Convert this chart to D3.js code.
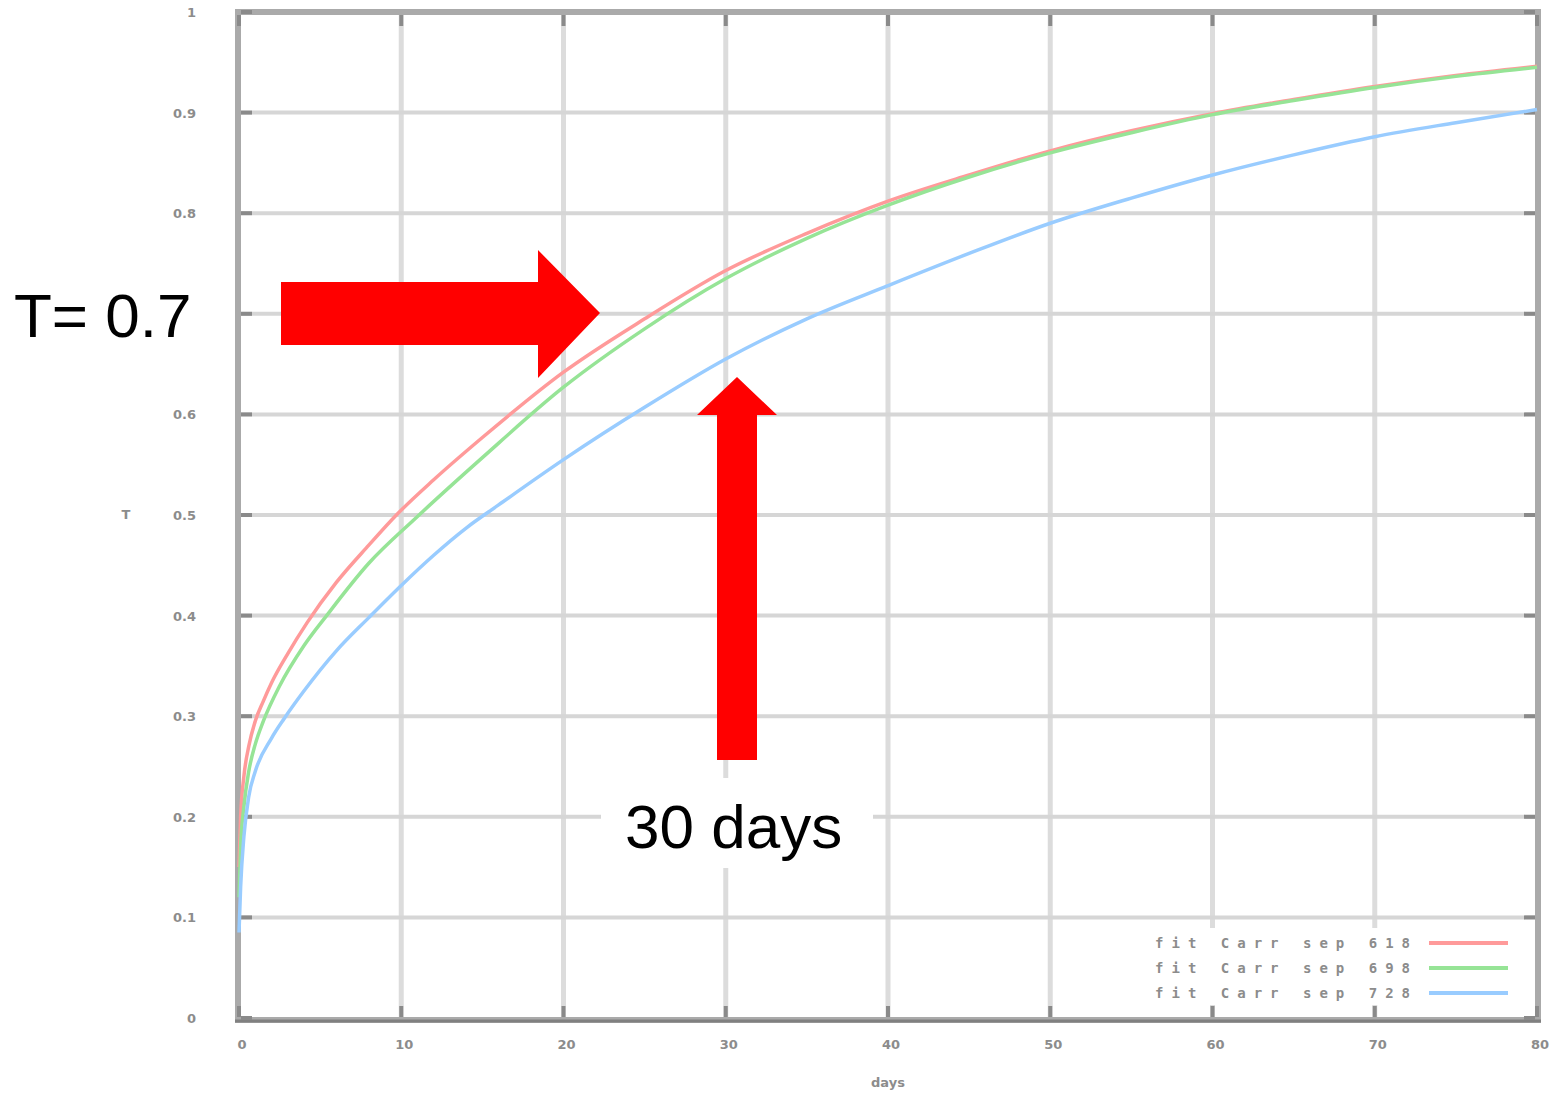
<!doctype html>
<html>
<head>
<meta charset='utf-8'>
<style>
  body { margin: 0; background: #fff; }
  svg { display: block; }
</style>
</head>
<body>
<div id='chart'></div>
<script src='https://cdn.jsdelivr.net/npm/d3@7/dist/d3.min.js'></script>
<script>

// values (days, T)
const xTicks = [0, 10, 20, 30, 40, 50, 60, 70, 80];
const yTicks = [0, 0.1, 0.2, 0.3, 0.4, 0.5, 0.6, 0.7, 0.8, 0.9, 1];
const yTickLabels = ['0', '0.1', '0.2', '0.3', '0.4', '0.5', '0.6', '', '0.8', '0.9', '1'];

const seriesNames = ['fit Carr sep 618', 'fit Carr sep 698', 'fit Carr sep 728'];
const seriesColors = ['#ff9a9a', '#96e496', '#99ccff'];

const redDays = [0, 0.1, 0.3, 0.6, 1, 1.5, 2, 3, 4.2, 6, 8, 9.7, 12, 15, 20, 25, 30, 35, 40, 45, 50, 55, 60, 65, 70, 75, 80];
const redT    = [0.15, 0.20, 0.24, 0.27, 0.295, 0.315, 0.333, 0.362, 0.393, 0.433, 0.47, 0.50, 0.535, 0.577, 0.642, 0.695, 0.743, 0.78, 0.812, 0.838, 0.862, 0.882, 0.899, 0.913, 0.926, 0.937, 0.946];

const greenDays = [0, 0.1, 0.3, 0.6, 1, 1.5, 2.5, 4, 5.4, 8, 10.9, 15, 20, 25, 30, 35, 40, 45, 50, 55, 60, 65, 70, 75, 80];
const greenT    = [0.12, 0.17, 0.21, 0.245, 0.272, 0.295, 0.33, 0.37, 0.40, 0.452, 0.497, 0.557, 0.627, 0.685, 0.735, 0.775, 0.808, 0.836, 0.86, 0.88, 0.898, 0.912, 0.925, 0.936, 0.945];

const blueDays = [0, 0.1, 0.3, 0.6, 1, 2, 2.8, 4, 6, 8, 10, 12, 14, 16, 20, 25, 30, 35, 40, 45, 50, 55, 60, 65, 70, 75, 80];
const blueT    = [0.085, 0.13, 0.18, 0.22, 0.245, 0.278, 0.298, 0.325, 0.365, 0.398, 0.43, 0.46, 0.487, 0.51, 0.555, 0.607, 0.655, 0.695, 0.728, 0.76, 0.79, 0.815, 0.838, 0.858, 0.876, 0.89, 0.903];

const W = 1564, H = 1103;
const frame = {l: 238, t: 12, r: 1538, b: 1020};

const svg = d3.select('#chart').append('svg')
  .attr('width', W)
  .attr('height', H);

const x = d3.scaleLinear().domain([0, 80]).range([239, 1537]);
const y = d3.scaleLinear().domain([0, 1]).range([1018, 12]);

// grid
svg.append('g')
  .selectAll('line.vg')
  .data(xTicks.slice(1, -1))
  .join('line')
  .attr('x1', d => x(d)).attr('x2', d => x(d))
  .attr('y1', frame.t).attr('y2', frame.b)
  .attr('stroke', '#dcdcdc').attr('stroke-width', 5);

svg.append('g')
  .selectAll('line.hg')
  .data(yTicks.slice(1, -1))
  .join('line')
  .attr('x1', frame.l).attr('x2', frame.r)
  .attr('y1', d => y(d)).attr('y2', d => y(d))
  .attr('stroke', '#d6d6d6').attr('stroke-width', 4);

// frame
svg.append('rect')
  .attr('x', frame.l).attr('y', frame.t)
  .attr('width', frame.r - frame.l).attr('height', frame.b - frame.t)
  .attr('fill', 'none').attr('stroke', '#aaaaaa').attr('stroke-width', 6);
svg.append('line')
  .attr('x1', frame.l - 3).attr('x2', frame.r + 3)
  .attr('y1', frame.b + 1).attr('y2', frame.b + 1)
  .attr('stroke', '#808080').attr('stroke-width', 3);

// tick marks, mirrored on all sides
const tickG = svg.append('g').attr('stroke', '#8a8a8a').attr('stroke-width', 4);
yTicks.forEach(t => {
  tickG.append('line').attr('x1', frame.l + 3).attr('x2', frame.l + 14).attr('y1', y(t)).attr('y2', y(t));
  tickG.append('line').attr('x1', frame.r - 3).attr('x2', frame.r - 14).attr('y1', y(t)).attr('y2', y(t));
});
xTicks.forEach(t => {
  tickG.append('line').attr('x1', x(t)).attr('x2', x(t)).attr('y1', frame.b - 3).attr('y2', frame.b - 14);
  tickG.append('line').attr('x1', x(t)).attr('x2', x(t)).attr('y1', frame.t + 3).attr('y2', frame.t + 14);
});

// tick labels
svg.append('g')
  .selectAll('text')
  .data(yTicks)
  .join('text')
  .attr('x', 196)
  .attr('y', d => y(d) + 5)
  .attr('text-anchor', 'end')
  .attr('font-family', 'DejaVu Sans, sans-serif')
  .attr('font-size', 13)
  .attr('font-weight', 'bold')
  .attr('fill', '#8c8c8c')
  .text((d, i) => yTickLabels[i]);

svg.append('g')
  .selectAll('text')
  .data(xTicks)
  .join('text')
  .attr('x', d => x(d) + 3)
  .attr('y', 1049)
  .attr('text-anchor', 'middle')
  .attr('font-family', 'DejaVu Sans, sans-serif')
  .attr('font-size', 13)
  .attr('font-weight', 'bold')
  .attr('fill', '#8c8c8c')
  .text(d => d);

// axis titles
svg.append('text')
  .attr('x', 126).attr('y', 519)
  .attr('text-anchor', 'middle')
  .attr('font-family', 'DejaVu Sans, sans-serif')
  .attr('font-size', 13).attr('font-weight', 'bold')
  .attr('fill', '#8c8c8c')
  .text('T');
svg.append('text')
  .attr('x', 888).attr('y', 1087)
  .attr('text-anchor', 'middle')
  .attr('font-family', 'DejaVu Sans, sans-serif')
  .attr('font-size', 13).attr('font-weight', 'bold')
  .attr('fill', '#8c8c8c')
  .text('days');

// curves
const series = [
  {days: redDays, T: redT},
  {days: greenDays, T: greenT},
  {days: blueDays, T: blueT}
];
const line = d3.line()
  .x(d => x(d[0]))
  .y(d => y(d[1]))
  .curve(d3.curveMonotoneX);

svg.append('g')
  .selectAll('path')
  .data(series)
  .join('path')
  .attr('d', s => line(s.days.map((d, i) => [d, s.T[i]])))
  .attr('fill', 'none')
  .attr('stroke', (s, i) => seriesColors[i])
  .attr('stroke-width', 3.5);

// legend
const legend = svg.append('g');
legend.append('rect')
  .attr('x', 1146).attr('y', 928)
  .attr('width', 386).attr('height', 77)
  .attr('fill', '#fff');
seriesNames.forEach((name, i) => {
  const ly = 943 + i * 25;
  legend.append('text')
    .attr('x', 1155).attr('y', ly + 5)
    .attr('font-family', 'DejaVu Sans Mono, monospace')
    .attr('font-size', 14).attr('font-weight', 'bold')
    .attr('fill', '#8c8c8c')
    .attr('textLength', 255)
    .attr('lengthAdjust', 'spacing')
    .text(name);
  legend.append('line')
    .attr('x1', 1429).attr('x2', 1508)
    .attr('y1', ly).attr('y2', ly)
    .attr('stroke', seriesColors[i]).attr('stroke-width', 4);
});

// annotations
svg.append('rect')
  .attr('x', 0).attr('y', 280)
  .attr('width', 218).attr('height', 70)
  .attr('fill', '#fff');
svg.append('rect')
  .attr('x', 601).attr('y', 778)
  .attr('width', 272).attr('height', 90)
  .attr('fill', '#fff');

svg.append('path')
  .attr('d', 'M281,282 L538,282 L538,250 L600,313 L538,378 L538,345 L281,345 Z')
  .attr('fill', '#ff0000');
svg.append('path')
  .attr('d', 'M717,760 L717,415 L697,415 L737,377 L777,415 L757,415 L757,760 Z')
  .attr('fill', '#ff0000');

svg.append('text')
  .attr('x', 14).attr('y', 337)
  .attr('font-family', 'Liberation Sans, Arial, sans-serif')
  .attr('font-size', 62)
  .attr('fill', '#000')
  .text('T= 0.7');
svg.append('text')
  .attr('x', 625).attr('y', 848)
  .attr('font-family', 'Liberation Sans, Arial, sans-serif')
  .attr('font-size', 62)
  .attr('fill', '#000')
  .text('30 days');

</script>
</body>
</html>
